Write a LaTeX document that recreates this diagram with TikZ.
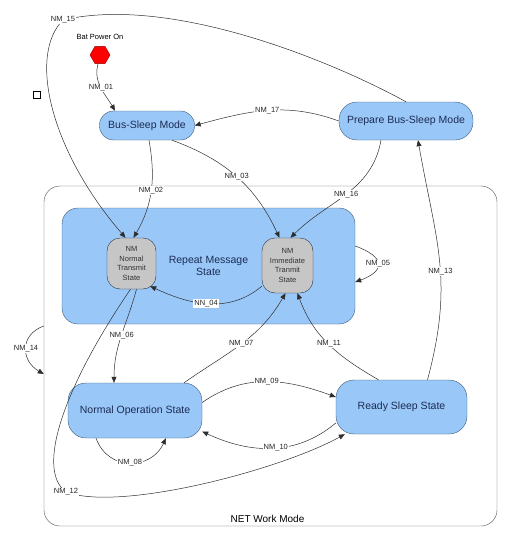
\documentclass[tikz,border=0pt]{standalone}
\usepackage{fontspec}
\setmainfont{Liberation Sans}
\usetikzlibrary{shapes.geometric, arrows.meta, positioning}
\definecolor{stateblue}{HTML}{99C7F7}
\definecolor{stateedge}{HTML}{3D5878}
\definecolor{statetext}{HTML}{1C2C55}
\definecolor{subgray}{HTML}{C6C6C6}
\definecolor{wire}{HTML}{2E2E2E}
\tikzstyle{state} = [rectangle, draw=stateedge, fill=stateblue, text=statetext, rounded corners=14pt, font=\fontsize{10.5}{12.5}\selectfont, align=center, inner sep=2pt]
\tikzstyle{substate} = [rectangle, draw=stateedge!60!black, fill=subgray, rounded corners=13pt, text=black!80, font=\fontsize{7.5}{9.7}\selectfont, align=center, inner sep=1pt]
\tikzstyle{arrow} = [draw=wire, line width=0.5pt, -{Triangle[length=6pt,width=5pt]}]
\tikzstyle{tag} = [fill=white, inner sep=1pt, font=\fontsize{7.5}{8}\selectfont, text=black!85]

\begin{document}
\begin{tikzpicture}[x=1pt, y=-1pt]
\useasboundingbox (0,0) rectangle (511,538);

% Mode frame
\node[rectangle, draw=black!70, rounded corners=16pt, minimum width=453pt, minimum height=340pt] (netmode) at (270.5,356) {};
\node[above=0pt of netmode.south, xshift=-3pt, font=\fontsize{10}{12}\selectfont] (netlabel) {NET Work Mode};

% States
\node[state, minimum width=293pt, minimum height=116pt, rounded corners=16pt] (repeat) at (208.5,266) {Repeat Message\\State};
\node[substate, minimum width=49pt, minimum height=51pt] (ntransmit) at (131.5,263.5) {NM\\Normal\\Transmit\\State};
\node[substate, minimum width=51pt, minimum height=55pt] (itransmit) at (287.5,265.5) {NM\\Immediate\\Tranmit\\State};
\node[state, minimum width=95pt, minimum height=29pt] (bussleep) at (147,125.5) {Bus-Sleep Mode};
\node[state, minimum width=134pt, minimum height=38pt, rounded corners=18pt] (prepare) at (406,121) {Prepare Bus-Sleep Mode};
\node[state, minimum width=134pt, minimum height=55pt, rounded corners=18pt] (normalop) at (135,410.5) {Normal Operation State};
\node[state, minimum width=131pt, minimum height=54pt, rounded corners=18pt] (ready) at (401.5,407) {Ready Sleep State};

% Power on
\node[regular polygon, regular polygon sides=6, minimum size=20pt, inner sep=0pt, draw=red!60!black, fill=red] (poweron) at (100,55) {};
\node[above=3pt of poweron, font=\fontsize{7.5}{9}\selectfont] (powerlabel) {Bat Power On};
\node[draw, minimum size=7pt, inner sep=0pt, line width=0.6pt] (marker) at (37,95) {};

% Transitions
\draw[arrow] ([xshift=-2pt]poweron.south) to[out=-105, in=120] node[tag] {NM\_01} ([xshift=-32pt]bussleep.north);
\draw[arrow] ([xshift=2pt]bussleep.south) to[out=-80, in=60] node[tag] {NM\_02} ([xshift=2pt]ntransmit.north);
\draw[arrow] ([xshift=25pt]bussleep.south) to[out=-20, in=115] node[tag] {NM\_03} ([xshift=-8pt]itransmit.north);
\draw[arrow] ([yshift=7pt]itransmit.south west) to[out=-140, in=-25] node[tag, pos=0.52] {NN\_04} ([xshift=-6pt, yshift=3pt]ntransmit.south east);
\draw[arrow] ([yshift=20pt]repeat.east) to[out=-20, in=20, looseness=2.3] node[tag] {NM\_05} ([yshift=-16pt]repeat.east);
\draw[arrow] ([xshift=5pt]ntransmit.south) to[out=-105, in=90] node[tag] {NM\_06} ([xshift=-21pt]normalop.north);
\draw[arrow] ([xshift=49pt]normalop.north) to[out=35, in=-120] node[tag] {NM\_07} ([xshift=-2pt]itransmit.south);
\draw[arrow] ([xshift=-39pt]normalop.south) to[out=-70, in=-115, looseness=1.3] node[tag] {NM\_08} ([xshift=31pt]normalop.south);
\draw[arrow] ([yshift=8pt]normalop.east) to[out=35, in=160] node[tag, pos=0.5] {NM\_09} ([yshift=10pt]ready.west);
\draw[arrow] ([yshift=-16pt]ready.west) to[out=-140, in=-25] node[tag, pos=0.47] {NM\_10} ([yshift=-21pt]normalop.east);
\draw[arrow] ([xshift=-23pt]ready.north) to[out=150, in=-70] node[tag] {NM\_11} ([xshift=10pt]itransmit.south);
\draw[arrow] ([xshift=-1pt]ntransmit.south) .. controls (62,390) and (36,470) .. (66,492) node[tag] {NM\_12}
  .. controls (120,512) and (280,470) .. ([xshift=9pt]ready.south west);
\draw[arrow] ([xshift=26pt]ready.north) to[out=75, in=-80, looseness=1.1] node[tag, pos=0.45] {NM\_13} ([xshift=12pt]prepare.south);
\draw[arrow] ([yshift=30pt]netmode.west) to[out=-160, in=150, looseness=1.4] node[tag] {NM\_14} ([yshift=-18pt]netmode.west);
\draw[arrow] (prepare.north) .. controls (330,60) and (170,-5) .. (63,20) node[tag] {NM\_15}
  .. controls (28,55) and (50,150) .. ([xshift=-6pt]ntransmit.north);
\draw[arrow] ([xshift=-25pt]prepare.south) to[out=-100, in=45] node[tag] {NM\_16} ([xshift=3pt]itransmit.north);
\draw[arrow] (prepare.west) to[out=160, in=15] node[tag] {NM\_17} (bussleep.east);

\end{tikzpicture}
\end{document}
